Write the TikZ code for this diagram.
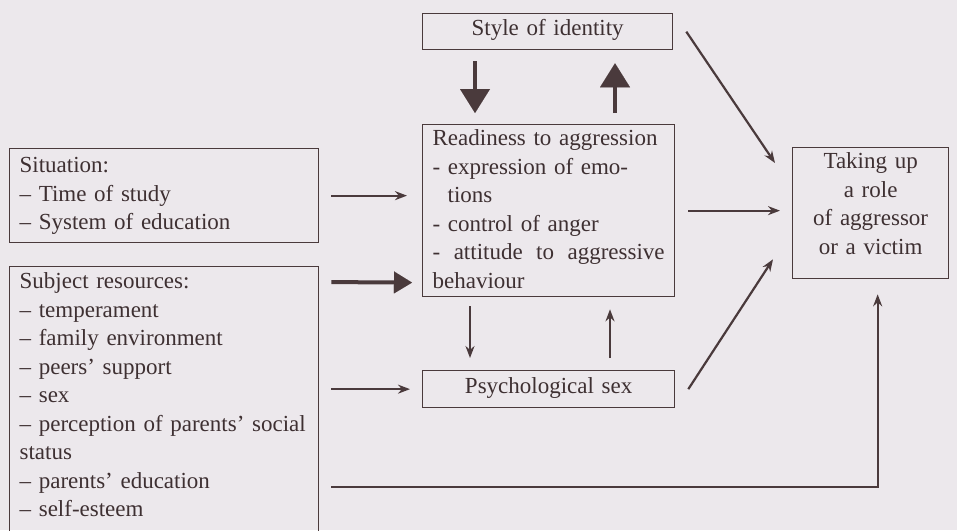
\documentclass[tikz,border=0pt]{standalone}
\usepackage{fontspec}
\setmainfont{Liberation Serif}
\usepackage{tikz}
\usetikzlibrary{arrows.meta}
\definecolor{ink}{RGB}{74,58,60}
\definecolor{paper}{RGB}{236,232,236}
\definecolor{txt}{RGB}{62,48,50}

\begin{document}
\begin{tikzpicture}[x=1pt,y=-1pt,
  font=\fontsize{23}{28.5}\selectfont,
  boxnode/.style={draw=ink,line width=1.3pt,anchor=north west,inner xsep=10pt,inner ysep=0pt,text=txt},
  arr/.style={color=ink,line width=2.2pt,-{Stealth[length=12pt,width=9pt]}},
  bigarr/.style={color=ink,line width=4.5pt,-{Triangle[length=24pt,width=30pt,line width=0.01pt]}}]
\path[use as bounding box] (0,0) rectangle (957,530);
\fill[paper] (0,0) rectangle (957,530);
\clip (0,0) rectangle (957,530);

% boxes
\node[boxnode,text width=230pt,align=center,text height=22pt,text depth=14pt] (style) at (422,13) {Style of identity};
\node[boxnode,text width=232pt,align=left,text height=21pt,text depth=151pt] (ready) at (422,124)
  {Readiness to aggression\\
   - expression of emo-\\
   \hspace*{15pt}tions\\
   - control of anger\\
   \makebox[232pt]{-\hfill attitude\hfill to\hfill aggressive}\\
   behaviour};
\node[boxnode,text width=289pt,align=left,text height=24pt,text depth=70pt] (sit) at (9,148)
  {Situation:\\
   – Time of study\\
   – System of education};
\node[boxnode,text width=289pt,align=left,text height=22pt,text depth=266pt] (res) at (9,266)
  {Subject resources:\\
   – temperament\\
   – family environment\\
   – peers' support\\
   – sex\\
   – perception of parents' social\\
   status\\
   – parents' education\\
   – self-esteem};
\node[boxnode,text width=232pt,align=center,text height=23pt,text depth=14pt] (psych) at (422,370) {Psychological sex};
\node[boxnode,text width=136pt,align=center,text height=21pt,text depth=110pt] (take) at (792,147)
  {Taking up\\ a role\\ of aggressor\\ or a victim};

% connectors
\path[arr]
  (sit.east) edge[shorten <=12pt,shorten >=15pt] (sit.east -| ready.west)
  (psych.west -| res.east) edge[shorten <=12pt,shorten >=12pt] (psych.west)
  ([xshift=48pt]ready.south west) edge[shorten <=9pt,shorten >=12pt] ([xshift=48pt]psych.north west)
  ([xshift=188pt]psych.north west) edge[shorten <=12pt,shorten >=12pt] ([xshift=188pt]ready.south west)
  (ready.east) edge[shorten <=13pt,shorten >=12pt] (ready.east -| take.west)
  ([xshift=13pt]style.east) edge ([shift={(-17,16)}]take.north west)
  ([xshift=13pt]psych.east) edge ([shift={(-19,-20)}]take.south west);
\draw[arr,shorten <=12pt,shorten >=15pt] ([yshift=-221pt]res.north east) -| ([xshift=7pt]take.south);

\path[bigarr]
  ([xshift=53pt]style.south west) edge[shorten <=11pt,shorten >=11pt] ([xshift=53pt]ready.north west)
  ([xshift=193pt]ready.north west) edge[shorten <=11pt,shorten >=13pt] ([xshift=193pt]style.south west);
\draw[bigarr,line width=4pt,-{Triangle[length=18pt,width=22pt,line width=0.01pt]},shorten <=12pt,shorten >=10pt]
  ([yshift=-16pt]res.north east) -- ([yshift=-72pt]ready.west);
\end{tikzpicture}
\end{document}
